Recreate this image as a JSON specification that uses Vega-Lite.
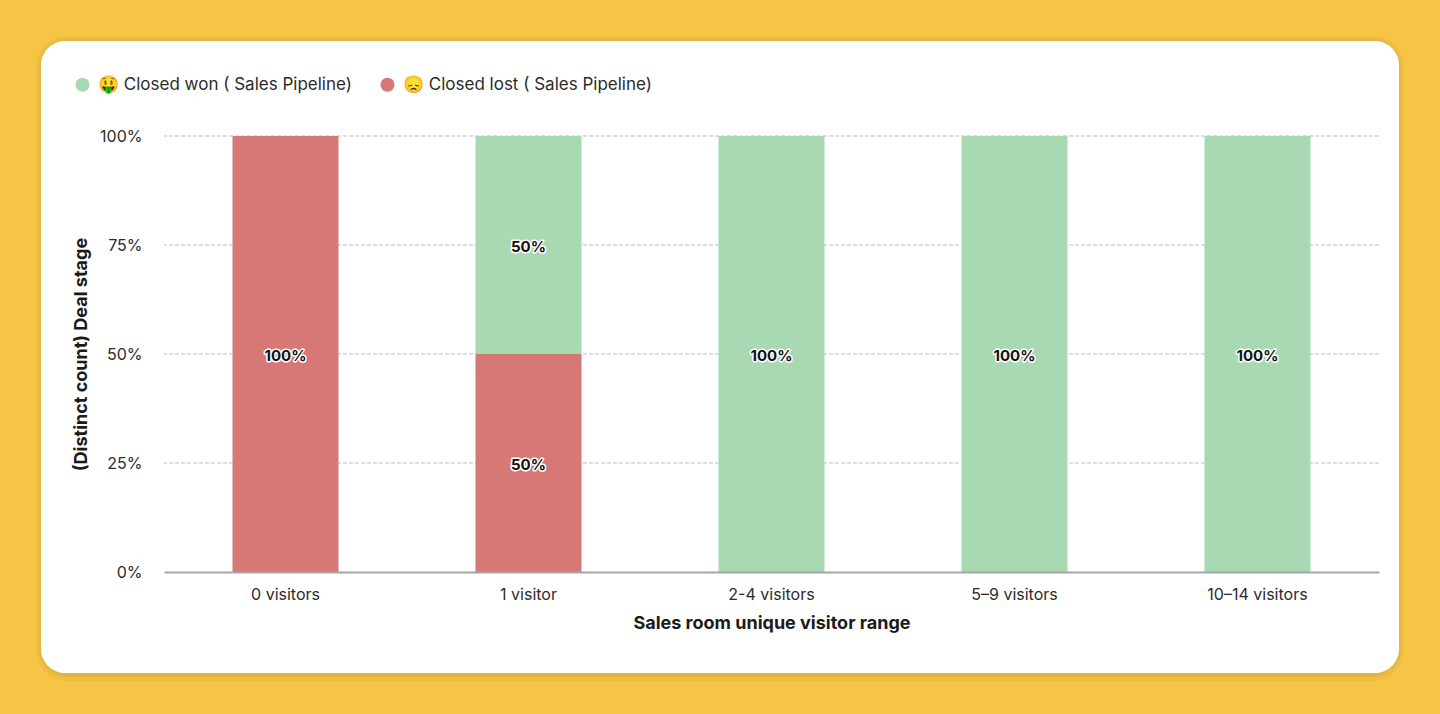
{
  "$schema": "https://vega.github.io/schema/vega-lite/v6.json",
  "width": 1215,
  "height": 436,
  "autosize": "none",
  "padding": {"left": 164, "top": 136, "right": 61, "bottom": 142},
  "background": "#F6C545",
  "config": {
    "view": {"stroke": null},
    "font": "Inter"
  },
  "data": {
    "values": [
      {"range": "0 visitors", "stage": "😞 Closed lost ( Sales Pipeline)", "share": 1, "rank": 1},
      {"range": "1 visitor", "stage": "🤑 Closed won ( Sales Pipeline)", "share": 0.5, "rank": 2},
      {"range": "1 visitor", "stage": "😞 Closed lost ( Sales Pipeline)", "share": 0.5, "rank": 1},
      {"range": "2-4 visitors", "stage": "🤑 Closed won ( Sales Pipeline)", "share": 1, "rank": 2},
      {"range": "5–9 visitors", "stage": "🤑 Closed won ( Sales Pipeline)", "share": 1, "rank": 2},
      {"range": "10–14 visitors", "stage": "🤑 Closed won ( Sales Pipeline)", "share": 1, "rank": 2}
    ]
  },
  "layer": [
    {
      "data": {"values": [{}]},
      "layer": [
        {"mark": {"type": "rect", "cornerRadius": 26, "fill": "#000000", "fillOpacity": 0, "stroke": "#000000", "strokeOpacity": 0.03, "strokeWidth": 10, "yOffset": 3}},
        {"mark": {"type": "rect", "cornerRadius": 26, "fill": "#000000", "fillOpacity": 0, "stroke": "#000000", "strokeOpacity": 0.04, "strokeWidth": 4, "yOffset": 2}},
        {"mark": {"type": "rect", "cornerRadius": 24, "fill": "#FFFFFF"}}
      ],
      "encoding": {
        "x": {"datum": 0, "type": "quantitative", "scale": {"domain": [0, 1], "range": [-123, 1235]}, "axis": null},
        "x2": {"datum": 1},
        "y": {"datum": 0, "type": "quantitative", "scale": {"domain": [0, 1], "range": [537, -95]}, "axis": null},
        "y2": {"datum": 1}
      }
    },
    {
      "layer": [
        {
          "data": {"values": [{"tick": 0.25}, {"tick": 0.5}, {"tick": 0.75}, {"tick": 1}]},
          "mark": {"type": "rule", "color": "#BDBDBD", "strokeDash": [4, 2], "strokeWidth": 1},
          "encoding": {
            "y": {
              "field": "tick",
              "type": "quantitative",
              "scale": {"domain": [0, 1]},
              "axis": {
                "title": "(Distinct count) Deal stage",
                "titleFontSize": 18,
                "titleFontWeight": 700,
                "titleColor": "#1A1A1A",
                "titlePadding": 9,
                "values": [0, 0.25, 0.5, 0.75, 1],
                "format": ".0%",
                "labelFontSize": 16,
                "labelColor": "#2B2B2B",
                "labelPadding": 22,
                "ticks": false,
                "domain": false,
                "grid": false,
                "zindex": 1
              }
            }
          }
        },
        {
          "mark": {"type": "bar", "width": 106},
          "encoding": {
            "x": {
              "field": "range",
              "type": "nominal",
              "scale": {
                "domain": ["0 visitors", "1 visitor", "2-4 visitors", "5–9 visitors", "10–14 visitors"],
                "paddingInner": 0.564,
                "paddingOuter": 0.282
              },
              "axis": {
                "title": "Sales room unique visitor range",
                "titleFontSize": 18,
                "titleFontWeight": 700,
                "titleColor": "#1A1A1A",
                "titlePadding": 12,
                "labelAngle": 0,
                "labelFontSize": 16,
                "labelColor": "#2B2B2B",
                "labelPadding": 14,
                "ticks": false,
                "domainColor": "#A6A6A6",
                "domainWidth": 2,
                "zindex": 1
              }
            },
            "y": {"field": "share", "type": "quantitative", "stack": "normalize"},
            "order": {"field": "rank"},
            "color": {
              "field": "stage",
              "type": "nominal",
              "scale": {
                "domain": ["🤑 Closed won ( Sales Pipeline)", "😞 Closed lost ( Sales Pipeline)"],
                "range": ["#A8D9B2", "#D67875"]
              },
              "legend": {
                "title": null,
                "orient": "none",
                "legendX": -90,
                "legendY": -60,
                "direction": "horizontal",
                "columns": 2,
                "columnPadding": 27,
                "symbolType": "circle",
                "symbolSize": 200,
                "symbolStrokeWidth": 0,
                "labelFontSize": 17,
                "labelColor": "#2B2B2B",
                "labelLimit": 0,
                "labelOffset": 7
              }
            }
          }
        },
        {
          "mark": {"type": "text", "fontSize": 15, "fontWeight": 700, "baseline": "middle", "dy": 1.5, "stroke": "#FFFFFF", "strokeWidth": 3, "strokeJoin": "round"},
          "encoding": {
            "x": {"field": "range", "type": "nominal"},
            "y": {"field": "share", "type": "quantitative", "stack": "normalize", "bandPosition": 0.5},
            "order": {"field": "rank"},
            "detail": {"field": "stage"},
            "text": {"field": "share", "type": "quantitative", "format": ".0%"}
          }
        },
        {
          "mark": {"type": "text", "fontSize": 15, "fontWeight": 700, "baseline": "middle", "dy": 1.5, "color": "#111111"},
          "encoding": {
            "x": {"field": "range", "type": "nominal"},
            "y": {"field": "share", "type": "quantitative", "stack": "normalize", "bandPosition": 0.5},
            "order": {"field": "rank"},
            "detail": {"field": "stage"},
            "text": {"field": "share", "type": "quantitative", "format": ".0%"}
          }
        }
      ]
    }
  ],
  "resolve": {"scale": {"x": "independent", "y": "independent"}}
}
